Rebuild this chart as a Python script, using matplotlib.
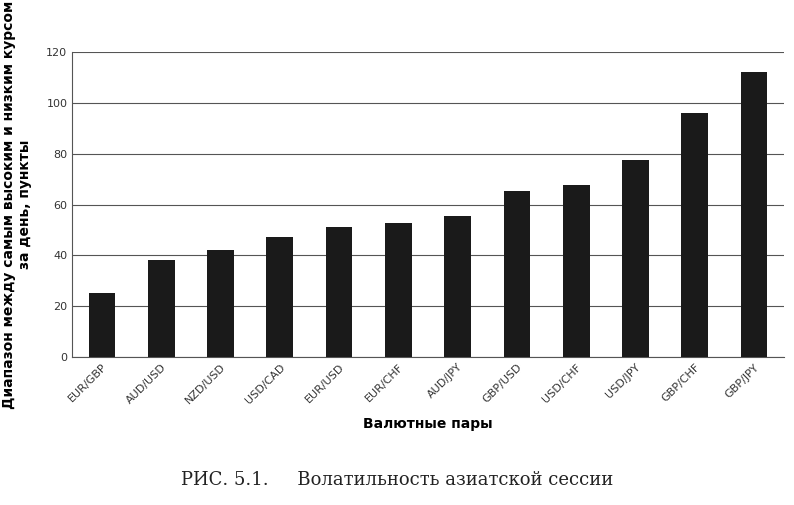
import matplotlib
matplotlib.use("Agg")
import matplotlib.pyplot as plt

pairs = ["EUR/GBP","AUD/USD","NZD/USD","USD/CAD","EUR/USD","EUR/CHF","AUD/JPY","GBP/USD","USD/CHF","USD/JPY","GBP/CHF","GBP/JPY"]
values = [25.2, 38.2, 42, 47.2, 51.2, 52.8, 55.5, 65.4, 67.7, 77.6, 96, 112.2]

fig = plt.figure(figsize=(7.94, 5.05), dpi=100)
ax = fig.add_axes([0.091, 0.293, 0.896, 0.604])
ax.bar(range(len(pairs)), values, width=0.45, color="#1a1a1a", zorder=3)
ax.set_ylim(0, 120)
ax.set_xlim(-0.5, len(pairs) - 0.5)
ax.set_yticks(range(0, 121, 20))
ax.yaxis.grid(True, color="#555555", linewidth=0.8, zorder=0)
ax.set_xticks(range(len(pairs)))
ax.set_xticklabels(pairs, rotation=45, ha="right", rotation_mode="anchor", fontsize=8, color="#333333")
ax.tick_params(axis="y", labelsize=8, colors="#333333", length=0)
ax.tick_params(axis="x", length=0)
for s in ["top", "right"]:
    ax.spines[s].set_visible(False)
ax.spines["left"].set_color("#555555")
ax.spines["bottom"].set_color("#555555")
ax.set_xlabel("Валютные пары", fontsize=10, fontweight="bold", labelpad=8)
ax.set_ylabel("Диапазон между самым высоким и низким курсом\nза день, пункты", fontsize=10, fontweight="bold", labelpad=10)
fig.text(0.5, 0.04, "РИС. 5.1.     Волатильность азиатской сессии", ha="center", fontsize=13, family="DejaVu Serif", color="#222222")
fig.savefig("out.png", dpi=100)
